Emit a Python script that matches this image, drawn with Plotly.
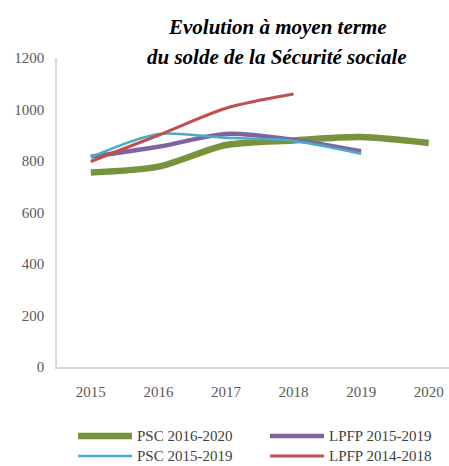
import plotly.graph_objects as go

years = ["2015", "2016", "2017", "2018", "2019", "2020"]
psc_2016_2020 = [755, 778, 862, 880, 893, 870]
lpfp_2015_2019 = [817, 855, 905, 882, 838, None]
psc_2015_2019 = [815, 905, 890, 878, 828, None]
lpfp_2014_2018 = [798, 900, 1005, 1060, None, None]

series = [
    ("PSC 2016-2020", psc_2016_2020, "#77933C", 6.5),
    ("LPFP 2015-2019", lpfp_2015_2019, "#8064A2", 4.5),
    ("PSC 2015-2019", psc_2015_2019, "#4BACC6", 2.5),
    ("LPFP 2014-2018", lpfp_2014_2018, "#C0504D", 3),
]

# plot area geometry (px) used to place the custom legend / title
L, T, W, H = 57, 58, 392, 309
def px_x(x): return (x - L) / W
def px_y(y): return (T + H - y) / H

font = "Liberation Serif, Times New Roman, serif"
fig = go.Figure()
shapes, annos = [], []
leg_pos = [(78, 436), (270, 436), (78, 456), (270, 456)]
for (name, vals, color, w), (lx, ly) in zip(series, leg_pos):
    fig.add_trace(go.Scatter(
        x=years, y=vals, name=name, mode="lines", showlegend=False,
        line=dict(color=color, width=w, shape="spline", smoothing=0.8),
    ))
    shapes.append(dict(type="line", xref="paper", yref="paper",
                       x0=px_x(lx), x1=px_x(lx + 54), y0=px_y(ly), y1=px_y(ly),
                       line=dict(color=color, width=w)))
    annos.append(dict(text=name, xref="paper", yref="paper", x=px_x(lx + 57), y=px_y(ly),
                      xanchor="left", yanchor="middle", showarrow=False,
                      font=dict(family=font, size=15, color="#404040")))

for txt, yc in [("Evolution à moyen terme", 27), ("du solde de la Sécurité sociale", 57)]:
    annos.append(dict(text="<b><i>" + txt + "</i></b>", xref="paper", yref="paper",
                      x=px_x(277), y=px_y(yc), xanchor="center", yanchor="middle",
                      showarrow=False, font=dict(family=font, size=21, color="black")))

fig.update_layout(
    width=449, height=466,
    margin=dict(l=L, r=0, t=T, b=466 - T - H),
    paper_bgcolor="white", plot_bgcolor="white",
    font=dict(family=font, size=15, color="#595959"),
    showlegend=False,
    xaxis=dict(type="category", range=[-0.5, 5.3], showgrid=False,
               showline=True, linecolor="#D9D9D9", linewidth=1.5,
               ticks="", ticklabelstandoff=10, automargin=False),
    yaxis=dict(range=[0, 1200], dtick=200, showgrid=False,
               showline=True, linecolor="#D9D9D9", linewidth=1.5,
               ticks="", ticklabelstandoff=8, zeroline=False, automargin=False),
    shapes=shapes,
    annotations=annos,
)

fig.write_html("out.html", config={"displayModeBar": False},
               post_script="document.body.style.margin='0';")
